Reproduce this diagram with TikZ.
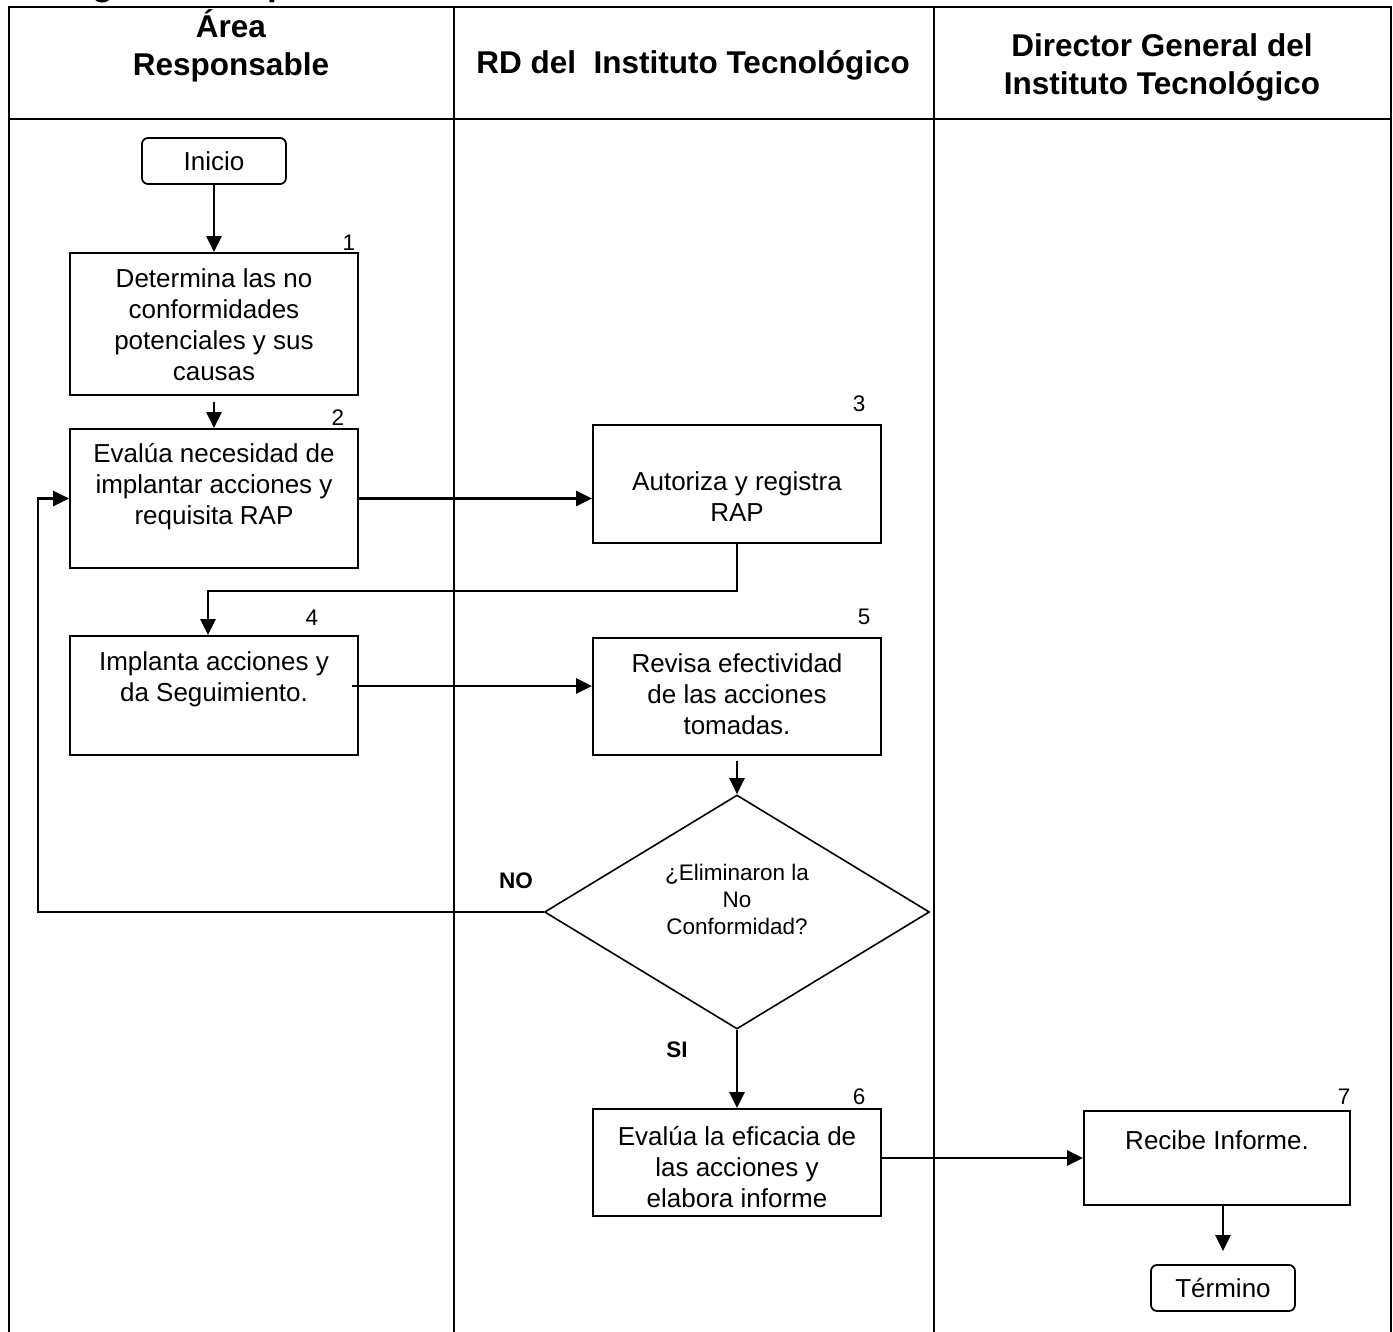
\documentclass[tikz,border=0pt]{standalone}
\usepackage{fontspec}
\setmainfont{Liberation Sans}
\usetikzlibrary{arrows.meta,shapes.geometric}
\begin{document}
\begin{tikzpicture}[x=1pt,y=-1pt,
  box/.style={draw, line width=1.8pt, inner sep=0pt, minimum width=288pt},
  term/.style={draw, line width=1.8pt, rounded corners=6pt, inner sep=0pt, minimum width=144pt, minimum height=46pt, font=\fontsize{26}{31}\selectfont},
  txt/.style={font=\fontsize{26}{31}\selectfont, align=center, inner sep=0pt},
  hdr/.style={font=\bfseries\fontsize{31.5}{38}\selectfont, align=center, inner sep=0pt},
  num/.style={font=\fontsize{22.5}{26}\selectfont, inner sep=0pt},
  lbl/.style={font=\bfseries\fontsize{22.5}{27}\selectfont, inner sep=0pt},
  arr/.style={line width=2.4pt, -{Triangle[length=16pt,width=15pt]}},
  conn/.style={line width=2.4pt}]
\useasboundingbox (0,0) rectangle (1393,1332);
\fill[white] (0,0) rectangle (1393,1332);
\clip (0,0) rectangle (1393,1332);

% title cut at the top edge, as in the reference
\node[font=\bfseries\fontsize{35}{40}\selectfont, anchor=base west, inner sep=0pt] (title) at (38,-4) {Diagrama del procedimiento};

% table
\draw[line width=2.2pt] (9,1345) -- (9,7) -- (1391,7) -- (1391,1345);
\draw[line width=2.2pt] (9,119) -- (1391,119);
\draw[line width=1.6pt] (454,7) -- (454,1345);
\draw[line width=1.6pt] (934,7) -- (934,1345);

\node[hdr] (h1) at (231,46) {Área\\Responsable};
\node[hdr] (h2) at (693,65) {RD del\ \ Instituto Tecnológico};
\node[hdr] (h3) at (1162,67) {Director General del\\Instituto Tecnológico};

% nodes
\node[term] (ini) at (214,161) {Inicio};
\node[box, minimum height=142pt] (b1) at (214,324) {};
\node[box, minimum height=139pt] (b2) at (214,498.5) {};
\node[box, minimum height=118pt] (b3) at (737,484) {};
\node[box, minimum height=119pt] (b4) at (214,695.5) {};
\node[box, minimum height=117pt] (b5) at (737,696.5) {};
\node[draw, line width=1.6pt, shape=diamond, inner sep=0pt, minimum width=385pt, minimum height=234pt] (d) at (737,912) {};
\node[box, minimum height=107pt] (b6) at (737,1162.5) {};
\node[box, minimum width=266pt, minimum height=94pt] (b7) at (1217,1158) {};
\node[term] (fin) at (1223,1288) {Término};

% texts
\node[txt] (t1) at (214,325) {Determina las no\\conformidades\\potenciales y sus\\causas};
\node[txt] (t2) at (214,487) {Evalúa necesidad de\\implantar acciones y\\requisita RAP};
\node[txt] (t3) at (737,497) {Autoriza y registra\\RAP};
\node[txt] (t4) at (214,679) {Implanta acciones y\\da Seguimiento.};
\node[txt] (t5) at (737,694) {Revisa efectividad\\de las acciones\\tomadas.};
\node[txt, font=\fontsize{22.5}{27}\selectfont] (td) at (737,899) {¿Eliminaron la\\No\\Conformidad?};
\node[txt] (t6) at (737,1167) {Evalúa la eficacia de\\las acciones y\\elabora informe};
\node[txt] (t7) at (1217,1140) {Recibe Informe.};

% numbers
\node[num] (n1) at (349,243) {1};
\node[num] (n2) at (338,418) {2};
\node[num] (n3) at (859,404) {3};
\node[num] (n4) at (312,618) {4};
\node[num] (n5) at (864,617) {5};
\node[num] (n6) at (859,1097) {6};
\node[num] (n7) at (1344,1097) {7};

\node[lbl] (no) at (516,881) {NO};
\node[lbl] (si) at (677,1050) {SI};

% connectors
\draw[arr] (ini) -- (b1);
\draw[arr, shorten <=6pt] (b1) -- (b2);
\draw[arr] (b2.east) -- (b2.east -| b3.west);
\coordinate (k34) at (208,591);
\draw[arr] (b3.south) |- (k34) -- (k34 |- b4.north);
\coordinate (a45) at (352,686);
\draw[arr] (a45) -- (a45 -| b5.west);
\draw[arr, shorten <=5pt] (b5) -- (d);
\coordinate (kno) at (38,912);
\draw[arr] (d.west) -- (kno) |- (b2.west);
\draw[arr] (d.south) -- (b6.north);
\draw[arr] (b7.west -| b6.east) -- (b7.west);
\draw[arr, shorten >=13pt] (b7.south -| fin.north) -- (fin.north);
\end{tikzpicture}
\end{document}
